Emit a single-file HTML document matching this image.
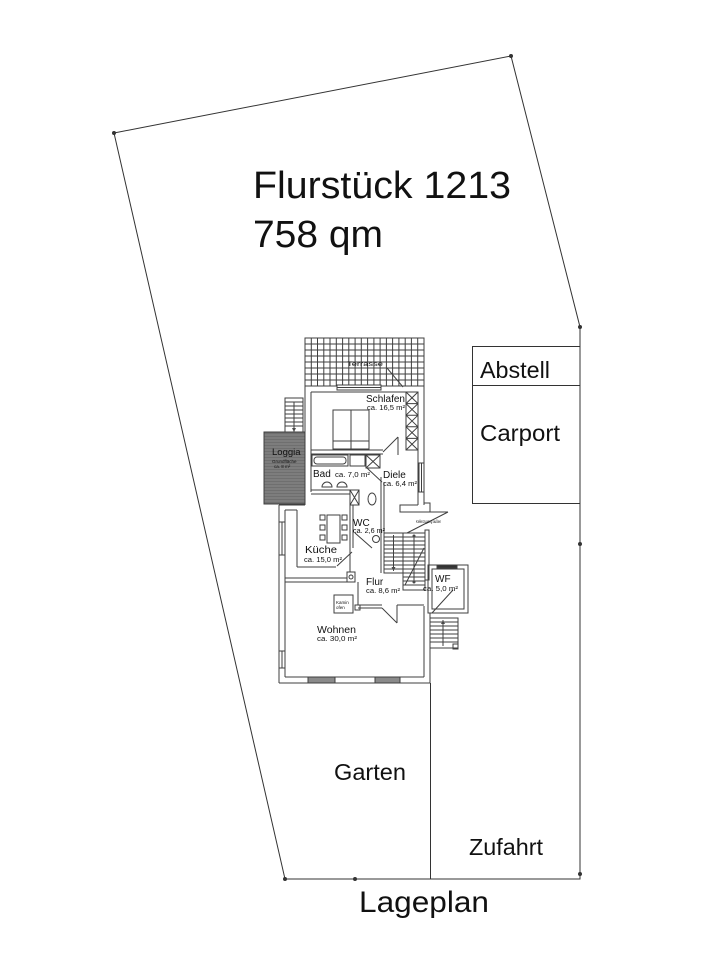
<!DOCTYPE html>
<html><head><meta charset="utf-8"><style>
html,body{margin:0;padding:0;background:#fff;}
svg{display:block;}
text{font-family:"Liberation Sans",Arial,sans-serif;fill:#111;}
</style></head><body>
<svg width="701" height="960" viewBox="0 0 701 960" xmlns="http://www.w3.org/2000/svg">
<rect width="701" height="960" fill="#fff"/>
<!-- boundary -->
<g stroke="#333" stroke-width="1" fill="none">
<polyline points="114,133 511,56 580,327 580,879 285,879 114,133"/>
<line x1="430.5" y1="683" x2="430.5" y2="879"/>
<rect x="472.5" y="346.5" width="107.5" height="157"/>
<line x1="472.5" y1="385.5" x2="580" y2="385.5"/>
</g>
<g fill="#333">
<circle cx="114" cy="133" r="2"/><circle cx="511" cy="56" r="2"/><circle cx="580" cy="327" r="2"/>
<circle cx="580" cy="544" r="2"/><circle cx="580" cy="874" r="2"/><circle cx="355" cy="879" r="2"/><circle cx="285" cy="879" r="2"/>
</g>
<text x="253" y="198" font-size="38" textLength="258" lengthAdjust="spacingAndGlyphs">Flurstück 1213</text>
<text x="253" y="247" font-size="38" textLength="130" lengthAdjust="spacingAndGlyphs">758 qm</text>
<text x="480" y="378" font-size="23" textLength="70" lengthAdjust="spacingAndGlyphs">Abstell</text>
<text x="480" y="441" font-size="23.5" textLength="80" lengthAdjust="spacingAndGlyphs">Carport</text>
<text x="334" y="780" font-size="23" textLength="72" lengthAdjust="spacingAndGlyphs">Garten</text>
<text x="469" y="855" font-size="23" textLength="74" lengthAdjust="spacingAndGlyphs">Zufahrt</text>
<text x="359" y="912" font-size="30" textLength="130" lengthAdjust="spacingAndGlyphs">Lageplan</text>

<!-- HOUSE -->
<g stroke="#3f3f3f" stroke-width="1" fill="none">
<!-- terrace -->
<rect x="305" y="338" width="119" height="48"/>
<path d="M311.3 338V386M317.5 338V386M323.8 338V386M330 338V386M336.3 338V386M342.6 338V386M348.8 338V386M355.1 338V386M361.3 338V386M367.6 338V386M373.9 338V386M380.1 338V386M386.4 338V386M392.6 338V386M398.9 338V386M405.2 338V386M411.4 338V386M417.7 338V386M305 344H424M305 350H424M305 356H424M305 362H424M305 368H424M305 374H424M305 380H424"/>
<rect x="337" y="385" width="44" height="5" fill="#fff"/>
<line x1="337" y1="387.5" x2="381" y2="387.5"/>
<line x1="387" y1="368" x2="403" y2="387"/>
<!-- upper block -->
<line x1="305" y1="386" x2="305" y2="505"/>
<line x1="311" y1="392" x2="311" y2="492"/>
<line x1="311" y1="392" x2="406" y2="392"/>
<line x1="424" y1="386" x2="424" y2="505"/>
<line x1="418" y1="392" x2="418" y2="505"/>
<rect x="419" y="463" width="5" height="29" fill="#fff"/>
<line x1="421.5" y1="463" x2="421.5" y2="492"/>
<!-- closet -->
<rect x="406" y="392" width="12" height="58"/>
<path d="M406 392L418 403.6M418 392L406 403.6M406 403.6L418 415.2M418 403.6L406 415.2M406 415.2L418 426.8M418 415.2L406 426.8M406 426.8L418 438.4M418 426.8L406 438.4M406 438.4L418 450M418 438.4L406 450M406 403.6H418M406 415.2H418M406 426.8H418M406 438.4H418"/>
<!-- bed -->
<rect x="333" y="410" width="36" height="39"/>
<line x1="351" y1="410" x2="351" y2="449"/>
<line x1="333" y1="441" x2="369" y2="441"/>
<!-- schlafen bottom wall -->
<line x1="311" y1="450" x2="383" y2="450"/>
<line x1="311" y1="454" x2="383" y2="454"/>
<line x1="383" y1="452" x2="398" y2="437"/>
<line x1="398" y1="437" x2="398" y2="455"/>
<!-- bad -->
<rect x="312" y="455" width="36" height="11"/>
<rect x="314" y="457" width="32" height="7" rx="3"/>
<rect x="350" y="455" width="15" height="11"/>
<rect x="366" y="455" width="14" height="13"/>
<path d="M366 455L380 468M380 455L366 468"/>
<line x1="367" y1="468" x2="382" y2="482"/>
<line x1="381" y1="477" x2="381" y2="573"/>
<line x1="384" y1="482" x2="384" y2="533"/>
<path d="M322 487A5 5 0 0 1 332 487Z M337 487A5 5 0 0 1 347 487Z"/>
<line x1="311" y1="490" x2="350" y2="490"/>
<line x1="311" y1="494" x2="350" y2="494"/>
<!-- wc -->
<rect x="350" y="490" width="9" height="15"/>
<path d="M350 490L359 505M359 490L350 505"/>
<ellipse cx="372" cy="499" rx="4" ry="6"/>
<line x1="350" y1="505" x2="350" y2="548"/>
<line x1="353" y1="505" x2="353" y2="548"/>
<line x1="355" y1="533" x2="372" y2="548"/>
<circle cx="376" cy="539" r="3.5"/>
<!-- loggia -->
<rect x="264" y="432" width="41" height="72" fill="#6f6f6f"/>
<path stroke="#a8a8a8" stroke-width="0.6" d="M264 435H305M264 438H305M264 441H305M264 444H305M264 447H305M264 450H305M264 453H305M264 456H305M264 459H305M264 462H305M264 465H305M264 468H305M264 471H305M264 474H305M264 477H305M264 480H305M264 483H305M264 486H305M264 489H305M264 492H305M264 495H305M264 498H305M264 501H305"/>
<rect x="264" y="432" width="41" height="72"/>
<!-- stair above loggia -->
<rect x="285" y="398" width="18" height="34"/>
<path d="M285 402H303M285 406H303M285 410H303M285 414H303M285 418H303M285 422H303M285 426H303M294 402V432"/>
<!-- lower block -->
<line x1="279" y1="505" x2="279" y2="683"/>
<line x1="285" y1="510" x2="285" y2="677"/>
<line x1="279" y1="505" x2="305" y2="505"/>
<line x1="285" y1="510" x2="297" y2="510"/>
<rect x="279" y="522" width="6" height="33" fill="#fff"/>
<line x1="282" y1="522" x2="282" y2="555"/>
<rect x="279" y="651" width="6" height="17" fill="#fff"/>
<line x1="282" y1="651" x2="282" y2="668"/>
<line x1="297" y1="510" x2="297" y2="567"/>
<line x1="297" y1="567" x2="336" y2="567"/>
<line x1="337" y1="566" x2="352" y2="552"/>
<line x1="285" y1="578" x2="347" y2="578"/>
<line x1="285" y1="582" x2="347" y2="582"/>
<rect x="347" y="572" width="8" height="10"/>
<circle cx="351" cy="577" r="2"/>
<line x1="350" y1="548" x2="350" y2="572"/>
<line x1="279" y1="683" x2="430" y2="683"/>
<line x1="285" y1="677" x2="424" y2="677"/>
<rect x="308" y="677" width="27" height="6" fill="#8a8a8a"/>
<rect x="375" y="677" width="25" height="6" fill="#8a8a8a"/>
<line x1="430" y1="613" x2="430" y2="683"/>
<line x1="424" y1="606" x2="424" y2="677"/>
<!-- table & chairs -->
<rect x="327" y="515" width="13" height="28"/>
<rect x="320" y="515" width="5" height="5"/><rect x="320" y="525" width="5" height="5"/><rect x="320" y="535" width="5" height="5"/>
<rect x="342" y="515" width="5" height="5"/><rect x="342" y="525" width="5" height="5"/><rect x="342" y="535" width="5" height="5"/>
<!-- diele right / steps -->
<path d="M418 505H400V512H430V503H424"/>
<line x1="420" y1="512" x2="448" y2="512"/>
<line x1="448" y1="512" x2="407" y2="533"/>
<!-- stairs -->
<rect x="384" y="533" width="19" height="40"/>
<path d="M384 537H403M384 541H403M384 545H403M384 549H403M384 553H403M384 557H403M384 561H403M384 565H403M384 569H403M393.5 535V571"/>
<rect x="403" y="533" width="22" height="57"/>
<path d="M403 537H425M403 541H425M403 545H425M403 549H425M403 553H425M403 557H425M403 561H425M403 565H425M403 569H425M403 573H425M403 577H425M403 581H425M403 585H425M414 536V582M405 585L424 548"/>
<rect x="425" y="530" width="4" height="50"/>
<!-- flur -->
<line x1="358" y1="582" x2="358" y2="605"/>
<rect x="334" y="595" width="19" height="18"/>
<rect x="355" y="605" width="5" height="5"/>
<line x1="358" y1="605" x2="382" y2="605"/>
<line x1="358" y1="608" x2="382" y2="608"/>
<line x1="382" y1="608" x2="397" y2="623"/>
<line x1="397" y1="605" x2="397" y2="623"/>
<line x1="397" y1="605" x2="424" y2="605"/>
<!-- WF -->
<rect x="428" y="565" width="40" height="48"/>
<rect x="432" y="569" width="32" height="40"/>
<rect x="437" y="565" width="20" height="3" fill="#333"/>
<line x1="432" y1="613" x2="453" y2="590"/>
<!-- lower stair -->
<rect x="430" y="618" width="28" height="30"/>
<path d="M430 622H458M430 626H458M430 630H458M430 634H458M430 638H458M430 642H458M443 620V646"/>
<rect x="453" y="644" width="5" height="5"/>
</g>
<g fill="#4a4a4a">
<path d="M294 432l-2 -4h4z"/>
<path d="M393.5 571l-2 -4h4z"/>
<path d="M443 620l-2 4h4z"/>
<circle cx="414" cy="536" r="1.5"/><circle cx="414" cy="582" r="1.5"/>
</g>
<!-- room labels -->
<g font-size="10">
<text x="366" y="402" textLength="39" lengthAdjust="spacingAndGlyphs">Schlafen</text>
<text x="313" y="477">Bad</text>
<text x="383" y="478">Diele</text>
<text x="272" y="455" font-size="9.5">Loggia</text>
<text x="353" y="526">WC</text>
<text x="305" y="553" textLength="32" lengthAdjust="spacingAndGlyphs">Küche</text>
<text x="366" y="585">Flur</text>
<text x="435" y="582">WF</text>
<text x="317" y="633" textLength="39" lengthAdjust="spacingAndGlyphs">Wohnen</text>
</g>
<g font-size="7">
<text x="367" y="410" textLength="38" lengthAdjust="spacingAndGlyphs">ca. 16,5 m²</text>
<text x="335" y="477" textLength="35" lengthAdjust="spacingAndGlyphs">ca. 7,0 m²</text>
<text x="383" y="486" textLength="34" lengthAdjust="spacingAndGlyphs">ca. 6,4 m²</text>
<text x="353" y="533" textLength="32" lengthAdjust="spacingAndGlyphs">ca. 2,6 m²</text>
<text x="304" y="562" textLength="38" lengthAdjust="spacingAndGlyphs">ca. 15,0 m²</text>
<text x="366" y="593" textLength="34" lengthAdjust="spacingAndGlyphs">ca. 8,6 m²</text>
<text x="423" y="591" textLength="35" lengthAdjust="spacingAndGlyphs">ca. 5,0 m²</text>
<text x="317" y="641" textLength="40" lengthAdjust="spacingAndGlyphs">ca. 30,0 m²</text>
</g>
<g font-size="4.5" fill="#333">
<text x="347" y="366" font-size="6" textLength="36" lengthAdjust="spacingAndGlyphs">Terrasse</text>
<text x="272" y="463">Grundfläche</text>
<text x="274" y="468">ca. 8 m²</text>
<text x="416" y="523" textLength="25" lengthAdjust="spacingAndGlyphs">Kellerzugang außen</text>
<text x="336" y="604">Kamin</text>
<text x="336" y="609">ofen</text>
</g>
</svg>
</body></html>
